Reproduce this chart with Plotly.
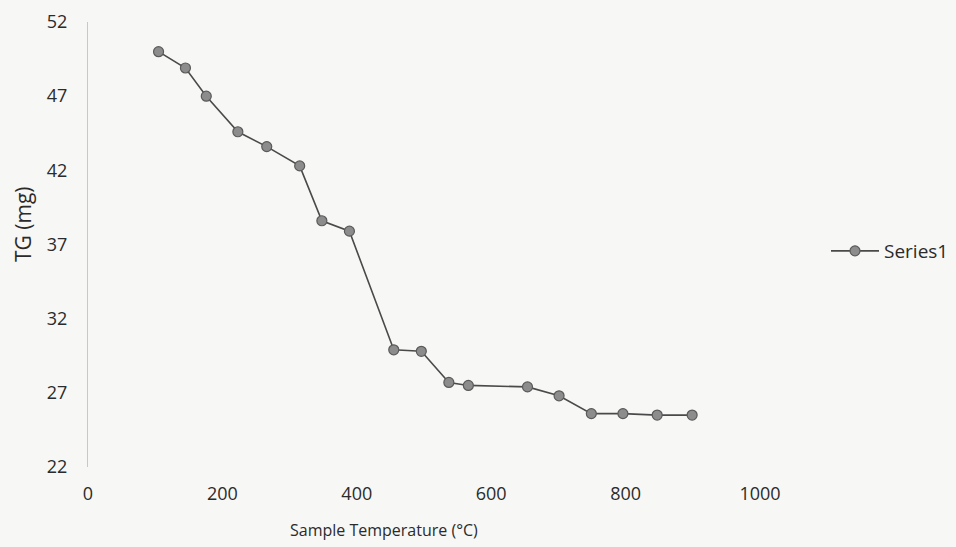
import plotly.graph_objects as go

temperature = [105, 145, 176, 223, 266, 315, 348, 389, 455, 496, 537, 566, 654, 701, 749, 796, 847, 899]
tg_mg = [50.0, 48.9, 47.0, 44.6, 43.6, 42.3, 38.6, 37.9, 29.9, 29.8, 27.7, 27.5, 27.4, 26.8, 25.6, 25.6, 25.5, 25.5]
x_ticks = [0, 200, 400, 600, 800, 1000]
y_ticks = [22, 27, 32, 37, 42, 47, 52]
series_name = "Series1"

font_family = "Open Sans, Liberation Sans, sans-serif"
txt = "#2b2b2b"

L, R, T, B = 88, 196, 22, 80
W, H = 956, 547
plot_w = W - L - R
plot_h = H - T - B

fig = go.Figure()
fig.add_trace(go.Scatter(
    x=temperature, y=tg_mg, mode="lines+markers", name=series_name,
    line=dict(color="#4a4a4a", width=1.6),
    marker=dict(size=10, color="#8c8c8c", line=dict(color="#5a5a5a", width=1.2)),
))

fig.update_layout(
    width=W, height=H,
    margin=dict(l=L, r=R, t=T, b=B, autoexpand=False),
    paper_bgcolor="#f7f7f5", plot_bgcolor="rgba(0,0,0,0)",
    font=dict(family=font_family, size=18, color=txt),
    showlegend=True,
    legend=dict(x=(826 - L) / plot_w, y=(H - B - 251) / plot_h, xanchor="left", yanchor="middle",
                bgcolor="rgba(0,0,0,0)", font=dict(size=19, color=txt),
                itemwidth=48),
    xaxis=dict(range=[0, 1000], tickvals=x_ticks, showgrid=False, zeroline=False,
               showline=False, ticks="", ticklabelstandoff=14,
               tickfont=dict(size=18, color=txt)),
    yaxis=dict(range=[22, 52], tickvals=y_ticks, showgrid=False, zeroline=False,
               showline=True, linecolor="#c8c8c8", linewidth=1, ticks="",
               ticklabelstandoff=16, tickfont=dict(size=18, color=txt)),
)

fig.add_annotation(text="TG (mg)", textangle=-90, showarrow=False,
                   xref="paper", yref="paper",
                   x=(23 - L) / plot_w, y=(H - B - 224) / plot_h,
                   xanchor="center", yanchor="middle",
                   font=dict(size=21, color=txt))
fig.add_annotation(text="Sample Temperature (°C)", showarrow=False,
                   xref="paper", yref="paper",
                   x=(384 - L) / plot_w, y=(H - B - 530) / plot_h,
                   xanchor="center", yanchor="middle",
                   font=dict(size=16, color=txt))

fig.write_html("out.html", config={"displayModeBar": False},
               post_script="document.body.style.margin='0';")
